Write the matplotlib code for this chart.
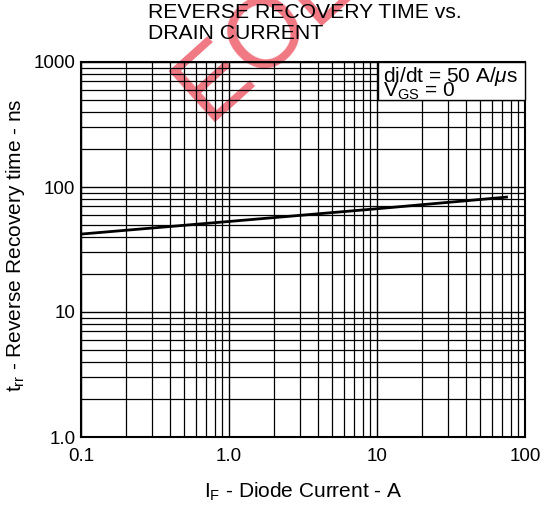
"""
Reverse recovery time vs. drain current (log-log), recriado em matplotlib.
"""
import matplotlib
matplotlib.use('Agg')
import matplotlib.pyplot as plt
from matplotlib.patches import Rectangle
from matplotlib.ticker import FixedLocator, LogLocator, NullFormatter

plt.rcParams['font.family'] = ['Liberation Sans', 'DejaVu Sans']
plt.rcParams['mathtext.fontset'] = 'custom'
plt.rcParams['mathtext.rm'] = 'Liberation Sans'
plt.rcParams['mathtext.it'] = 'Liberation Sans:italic'

# dados
corrente_a = [0.1, 1.0, 10, 75]
trr_ns = [42, 53, 67, 83]

x_ticks = [0.1, 1.0, 10, 100]
x_labels = ['0.1', '1.0', '10', '100']
y_ticks = [1, 10, 100, 1000]
y_labels = ['1.0', '10', '100', '1000']

W, H = 547, 508
fig = plt.figure(figsize=(W / 100, H / 100), dpi=100)
ax = fig.add_axes([81 / W, 71 / H, 444 / W, 375 / H])

# marca d'água EOL (atrás da grade)
fig.text(264 / W, 1 - 36 / H, 'EOL', color='#f07883', fontsize=72,
         rotation=42, ha='center', va='center', zorder=-1)
ax.set_facecolor('none')

ax.plot(corrente_a, trr_ns, color='black', lw=2, zorder=3)

ax.set_xscale('log')
ax.set_yscale('log')
ax.set_xlim(0.1, 100)
ax.set_ylim(1, 1000)

ax.xaxis.set_major_locator(FixedLocator(x_ticks))
ax.yaxis.set_major_locator(FixedLocator(y_ticks))
ax.set_xticklabels(x_labels)
ax.set_yticklabels(y_labels)
ax.xaxis.set_minor_locator(LogLocator(base=10, subs=range(2, 10)))
ax.yaxis.set_minor_locator(LogLocator(base=10, subs=range(2, 10)))
ax.xaxis.set_minor_formatter(NullFormatter())
ax.yaxis.set_minor_formatter(NullFormatter())
ax.tick_params(which='both', length=0, labelsize=13.6, colors='black')
ax.tick_params(axis='x', pad=8)
ax.tick_params(axis='y', pad=4)

ax.grid(True, which='major', color='black', lw=1.0, zorder=1)
ax.grid(True, which='minor', color='black', lw=0.9, zorder=1)
for s in ax.spines.values():
    s.set_linewidth(1.5)

# caixa de condições
x0 = (378 - 81) / 444
y0 = (437 - 100) / 375
ax.add_patch(Rectangle((x0, y0), 1 - x0, 1 - y0, transform=ax.transAxes,
                       facecolor='white', edgecolor='black', lw=1.0, zorder=5,
                       clip_on=False))
ax.text((383 - 81) / 444, (437 - 82) / 375, 'di/dt = 50 A/$\\mu$s',
        transform=ax.transAxes, ha='left', va='baseline', fontsize=15, zorder=6)
ax.text((383 - 81) / 444, (437 - 97) / 375, '$\\mathregular{V_{GS}}$ = 0',
        transform=ax.transAxes, ha='left', va='baseline', fontsize=15, zorder=6)

# rótulos dos eixos
fig.text(303 / W, 1 - 498 / H, '$\\mathregular{I_F}$ - Diode Current - A',
         ha='center', va='baseline', fontsize=15)
fig.text(16 / W, 1 - 245 / H, '$\\mathregular{t_{rr}}$ - Reverse Recovery time - ns',
         ha='center', va='center', rotation=90, fontsize=15)

# título
fig.text(148 / W, 1 - 18 / H, 'REVERSE RECOVERY TIME vs.',
         ha='left', va='baseline', fontsize=15.2)
fig.text(148 / W, 1 - 39 / H, 'DRAIN CURRENT',
         ha='left', va='baseline', fontsize=15.2)

fig.savefig('out.png', dpi=100)
